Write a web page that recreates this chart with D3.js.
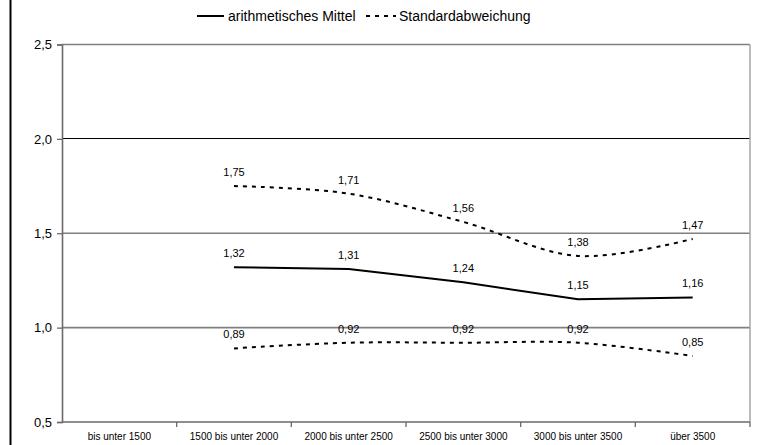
<!DOCTYPE html>
<html>
<head>
<meta charset="utf-8">
<script src="https://cdn.jsdelivr.net/npm/d3@7"></script>
<style>
  body { margin: 0; background: #fff; }
  svg { display: block; font-family: Arial, "Liberation Sans", sans-serif; }
</style>
</head>
<body>
<svg id="chart"></svg>
<script>
var categories = ["bis unter 1500", "1500 bis unter 2000", "2000 bis unter 2500",
	"2500 bis unter 3000", "3000 bis unter 3500", "über 3500"],
	mittel = [null, 1.32, 1.31, 1.24, 1.15, 1.16],
	sdOben = [null, 1.75, 1.71, 1.56, 1.38, 1.47],
	sdUnten = [null, 0.89, 0.92, 0.92, 0.92, 0.85],
	yTicks = [0.5, 1.0, 1.5, 2.0, 2.5],
	legendNames = ["arithmetisches Mittel", "Standardabweichung"];

var width = 765,
	height = 445,
	plotLeft = 62, plotRight = 750, plotTop = 44.5, plotBottom = 422;

var vis = d3.select("#chart").attr("width", width).attr("height", height);

var x = d3.scaleBand().domain(categories).range([plotLeft, plotRight]),
	y = d3.scaleLinear().domain([0.5, 2.5]).range([plotBottom, plotTop]);

var komma = function(d, n){ return d3.format("." + n + "f")(d).replace(".", ","); };

// outer frame line on the left
vis.append("line")
	.attr("x1", 10.5).attr("x2", 10.5).attr("y1", 0).attr("y2", height)
	.attr("stroke", "#000").attr("stroke-width", 2);

// gridlines (2,0 drawn crisp black, the others come out soft grey)
var gridY = function(d){ return d == 2.0 ? Math.floor(y(d)) + 0.5 : y(d); };
vis.selectAll("line.grid")
	.data(yTicks.slice(1))
	.enter().append("line")
	.attr("class", "grid")
	.attr("x1", plotLeft).attr("x2", plotRight)
	.attr("y1", gridY)
	.attr("y2", gridY)
	.attr("stroke", function(d){ return d == 2.0 ? "#000" : "#808080"; })
	.attr("stroke-width", function(d){ return d == 2.0 ? 1 : 1.6; });

// right border of the plot area
vis.append("line")
	.attr("x1", plotRight).attr("x2", plotRight).attr("y1", plotTop).attr("y2", plotBottom)
	.attr("stroke", "#a6a6a6").attr("stroke-width", 1.5);

// y axis
var yAxis = vis.append("g")
	.attr("transform", "translate(" + plotLeft + ",0)")
	.call(d3.axisLeft(y).tickValues(yTicks).tickSize(5).tickPadding(5)
		.tickFormat(function(d){ return komma(d, 1); }));
yAxis.select(".domain").attr("stroke", "#6a6a6a").attr("stroke-width", 1.6);
yAxis.selectAll(".tick line").attr("stroke", "#6a6a6a").attr("stroke-width", 1.3);
yAxis.selectAll("text").attr("font-size", 13).attr("fill", "#000").attr("font-family", "Arial, 'Liberation Sans', sans-serif");

// x axis: ticks between the categories
var xAxis = vis.append("g")
	.attr("transform", "translate(0," + plotBottom + ")")
	.call(d3.axisBottom(x).tickSize(0).tickPadding(11));
xAxis.select(".domain").remove();
xAxis.selectAll("text").attr("font-size", 10).attr("fill", "#000").attr("font-family", "Arial, 'Liberation Sans', sans-serif");
vis.append("line")
	.attr("x1", plotLeft).attr("x2", plotRight).attr("y1", plotBottom).attr("y2", plotBottom)
	.attr("stroke", "#6a6a6a").attr("stroke-width", 1.6);
vis.selectAll("line.xtick")
	.data(categories.concat(["end"]).slice(1))
	.enter().append("line")
	.attr("class", "xtick")
	.attr("x1", function(d, i){ return plotLeft + x.step() * (i + 1); })
	.attr("x2", function(d, i){ return plotLeft + x.step() * (i + 1); })
	.attr("y1", plotBottom).attr("y2", plotBottom + 5)
	.attr("stroke", "#6a6a6a").attr("stroke-width", 1.3);

// lines
var cx = function(i){ return x(categories[i]) + x.bandwidth() / 2; };
var series = [
	{values: mittel, dash: null, curve: d3.curveLinear},
	{values: sdOben, dash: "4,5", curve: d3.curveCatmullRom},
	{values: sdUnten, dash: "4,5", curve: d3.curveCatmullRom}
];

series.forEach(function(s){
	var pts = s.values.map(function(v, i){ return {i: i, v: v}; })
		.filter(function(d){ return d.v !== null; });
	var line = d3.line()
		.x(function(d){ return cx(d.i); })
		.y(function(d){ return y(d.v); })
		.curve(s.curve);
	vis.append("path")
		.datum(pts)
		.attr("d", line)
		.attr("fill", "none")
		.attr("stroke", "#000")
		.attr("stroke-width", 2)
		.attr("stroke-dasharray", s.dash);
	vis.selectAll(null)
		.data(pts)
		.enter().append("text")
		.attr("x", function(d){ return cx(d.i); })
		.attr("y", function(d){ return y(d.v) - 10; })
		.attr("text-anchor", "middle")
		.attr("font-size", 11)
		.attr("fill", "#000")
		.text(function(d){ return komma(d.v, 2); });
});

// legend
var legend = vis.append("g");
legend.append("line")
	.attr("x1", 197).attr("x2", 224).attr("y1", 16).attr("y2", 16)
	.attr("stroke", "#000").attr("stroke-width", 2);
legend.append("text")
	.attr("x", 228).attr("y", 21)
	.attr("font-size", 14)
	.text(legendNames[0]);
legend.append("line")
	.attr("x1", 366).attr("x2", 396).attr("y1", 16).attr("y2", 16)
	.attr("stroke", "#000").attr("stroke-width", 2)
	.attr("stroke-dasharray", "4,5");
legend.append("text")
	.attr("x", 399).attr("y", 21)
	.attr("font-size", 14)
	.text(legendNames[1]);
</script>
</body>
</html>
